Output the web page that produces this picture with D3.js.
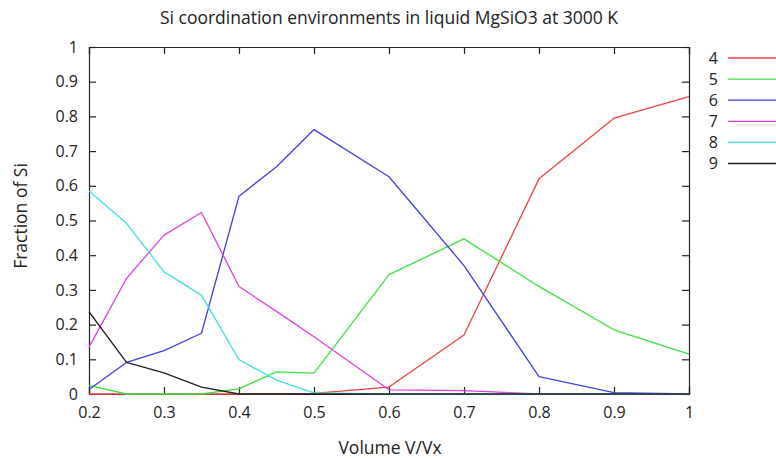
<!DOCTYPE html>
<html>
<head>
<meta charset="utf-8">
<script src="https://cdn.jsdelivr.net/npm/d3@7"></script>
<style>
  body { margin: 0; background: #fff; }
  text { font-family: "Open Sans", "DejaVu Sans", sans-serif; fill: #222; }
</style>
</head>
<body>
<div id="chart"></div>
<script>
const volumes = [0.2, 0.25, 0.3, 0.35, 0.4, 0.45, 0.5, 0.6, 0.7, 0.8, 0.9, 1.0];
const cn4 = [0, 0, 0, 0, 0, 0, 0.002, 0.02, 0.17, 0.62, 0.795, 0.857];
const cn5 = [0.025, 0, 0, 0, 0.015, 0.064, 0.06, 0.344, 0.447, 0.31, 0.185, 0.115];
const cn6 = [0.013, 0.091, 0.125, 0.175, 0.57, 0.655, 0.762, 0.626, 0.37, 0.05, 0.004, 0];
const cn7 = [0.135, 0.333, 0.458, 0.523, 0.31, 0.238, 0.165, 0.012, 0.01, 0, 0, 0];
const cn8 = [0.585, 0.492, 0.352, 0.285, 0.099, 0.04, 0.003, 0, 0, 0, 0, 0];
const cn9 = [0.237, 0.091, 0.061, 0.02, 0, 0, 0, 0, 0, 0, 0, 0];
const seriesNames = ["4", "5", "6", "7", "8", "9"];
const seriesColors = ["#f04040", "#40e040", "#4040e0", "#e040e0", "#40e0e0", "#202020"];
const xTicks = [0.2, 0.3, 0.4, 0.5, 0.6, 0.7, 0.8, 0.9, 1];
const yTicks = [0, 0.1, 0.2, 0.3, 0.4, 0.5, 0.6, 0.7, 0.8, 0.9, 1];

const allSeries = [cn4, cn5, cn6, cn7, cn8, cn9];

let width = 776, height = 459;
let margin = { left: 89, right: 87, top: 47, bottom: 65 };

let svg = d3.select("#chart").append("svg")
  .attr("width", width)
  .attr("height", height);

let x = d3.scaleLinear().domain([0.2, 1]).range([margin.left, width - margin.right]);
let y = d3.scaleLinear().domain([0, 1]).range([height - margin.bottom, margin.top]);

// title + axis labels
svg.append("text")
  .attr("x", 389).attr("y", 24)
  .attr("text-anchor", "middle")
  .attr("font-size", "17.5px")
  .text("Si coordination environments in liquid MgSiO3 at 3000 K");

svg.append("text")
  .attr("x", 390).attr("y", 454)
  .attr("text-anchor", "middle")
  .attr("font-size", "17.5px")
  .text("Volume V/Vx");

svg.append("text")
  .attr("transform", "translate(27,216) rotate(-90)")
  .attr("text-anchor", "middle")
  .attr("font-size", "17.5px")
  .text("Fraction of Si");

// axes, ticks inside and mirrored like gnuplot
let tickLen = 7;
let axisB = d3.axisBottom(x).tickValues(xTicks).tickSize(-tickLen).tickPadding(13)
  .tickFormat(d3.format("~g"));
let axisT = d3.axisTop(x).tickValues(xTicks).tickSize(-tickLen).tickFormat("");
let axisL = d3.axisLeft(y).tickValues(yTicks).tickSize(-tickLen).tickPadding(11)
  .tickFormat(d3.format("~g"));
let axisR = d3.axisRight(y).tickValues(yTicks).tickSize(-tickLen).tickFormat("");

let gB = svg.append("g").attr("transform", "translate(0," + y(0) + ")").call(axisB);
let gT = svg.append("g").attr("transform", "translate(0," + y(1) + ")").call(axisT);
let gL = svg.append("g").attr("transform", "translate(" + x(0.2) + ",0)").call(axisL);
let gR = svg.append("g").attr("transform", "translate(" + x(1) + ",0)").call(axisR);

[gB, gT, gL, gR].forEach(function (g) {
  g.selectAll("path, line").attr("stroke", "#222").attr("stroke-width", 1.2);
  g.selectAll("text").attr("font-size", "16px").attr("fill", "#222")
    .attr("font-family", '"Open Sans", "DejaVu Sans", sans-serif');
});

// lines
let line = d3.line()
  .x(function (d, i) { return x(volumes[i]); })
  .y(function (d) { return y(d); });

svg.append("g")
  .selectAll("path")
  .data(allSeries)
  .join("path")
  .attr("d", line)
  .attr("fill", "none")
  .attr("stroke", function (d, i) { return seriesColors[i]; })
  .attr("stroke-width", 1.3)
  .attr("stroke-linejoin", "round");

// legend
let legend = svg.append("g");
seriesNames.forEach(function (name, i) {
  let ly = 58 + i * 21.1;
  legend.append("text")
    .attr("x", 718).attr("y", ly)
    .attr("dy", "0.35em")
    .attr("text-anchor", "end")
    .attr("font-size", "16px")
    .text(name);
  legend.append("line")
    .attr("x1", 728).attr("x2", 780)
    .attr("y1", ly).attr("y2", ly)
    .attr("stroke", seriesColors[i])
    .attr("stroke-width", 1.3);
});
</script>
</body>
</html>
